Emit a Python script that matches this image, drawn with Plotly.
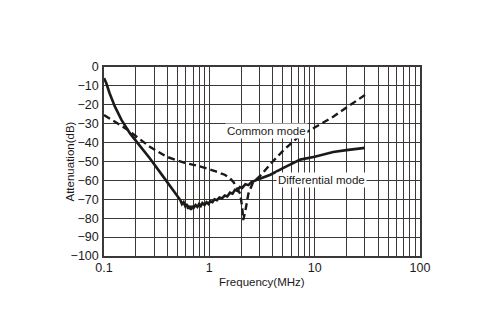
import numpy as np
import plotly.graph_objects as go

# Differential mode (solid)
diff_freq = [0.1, 0.105, 0.113, 0.127, 0.1465, 0.176, 0.2036, 0.272, 0.365, 0.489,
             0.53, 0.55, 0.57, 0.59, 0.61, 0.63, 0.65, 0.67, 0.69, 0.71, 0.74, 0.77, 0.8, 0.83, 0.86,
             0.9, 0.94, 0.98, 1.02, 1.07, 1.12, 1.18, 1.25, 1.32, 1.4, 1.48, 1.57, 1.66, 1.75, 1.84,
             1.95, 2.05, 2.2, 2.35, 2.5, 2.8, 3.2, 3.8, 5.0, 7.3, 10, 15, 20, 30]
diff_att = [-5.9, -8.5, -13.9, -21, -28, -35, -39.5, -48.3, -58, -67.7,
            -70.4, -72.5, -71.5, -73.5, -72.5, -75, -73.5, -75.5, -73.5, -74.5, -73, -74, -72.5, -73.5, -72,
            -73, -71.5, -72.5, -71, -71.5, -70, -70.5, -69, -69.5, -68, -68.5, -66.5, -67, -65, -65.5,
            -63.5, -64, -62, -62.5, -61, -59.8, -58.5, -57, -53.5, -49, -47.5, -45, -44, -42.8]

# Common mode (dashed)
common_freq = [0.1, 0.127, 0.169, 0.204, 0.272, 0.39, 0.565, 0.81, 1.0, 1.17,
               1.4, 1.57, 1.7, 1.84, 1.96, 2.05, 2.1, 2.2, 2.35, 2.6, 3.05, 4, 5.07, 7, 9.1, 10, 15, 21.7, 30]
common_att = [-25.4, -28.9, -33.3, -36.9, -42.2, -47.4, -50.5, -52.5, -54, -55.4,
              -57, -58.9, -61, -64, -67, -74, -81, -76, -67, -61, -57.5, -50, -44, -37, -33.5, -32,
              -26.3, -20, -14.8]

x_grid = [m * 10.0 ** e for e in (-1, 0, 1) for m in range(1, 10)] + [100]
x_labels = {0.1: "0.1", 1.0: "1", 10.0: "10", 100: "100"}
x_text = [x_labels.get(round(v, 6), "") for v in x_grid]
y_ticks = list(range(0, -101, -10))
y_text = [("−" + str(-v)) if v < 0 else "0" for v in y_ticks]

ink = "#1c1a19"
grid = "#3b3837"

fig = go.Figure()
fig.add_trace(go.Scatter(x=diff_freq, y=diff_att, mode="lines",
                         line=dict(color=ink, width=2.6), showlegend=False))
fig.add_trace(go.Scatter(x=common_freq, y=common_att, mode="lines",
                         line=dict(color=ink, width=2.4, dash="7px,4px"), showlegend=False))

fig.add_annotation(x=np.log10(3.47), y=-34, text="Common mode", showarrow=False,
                   bgcolor="white", font=dict(size=11.5, color=ink), borderpad=1)
fig.add_annotation(x=np.log10(11.6), y=-60, text="Differential mode", showarrow=False,
                   bgcolor="white", font=dict(size=11.5, color=ink), borderpad=1)

# axis titles placed as paper annotations
fig.add_annotation(xref="paper", yref="paper", x=(69 - 104) / 316, y=0.5,
                   text="Attenuation(dB)", textangle=-90, showarrow=False,
                   xanchor="center", yanchor="middle", font=dict(size=11.5, color=ink))
fig.add_annotation(xref="paper", yref="paper", x=0.5, y=(256 - 282) / 189,
                   text="Frequency(MHz)", showarrow=False,
                   xanchor="center", yanchor="middle", font=dict(size=11.5, color=ink))

fig.update_layout(
    width=500, height=333,
    margin=dict(l=104, r=80, t=67, b=77),
    paper_bgcolor="white", plot_bgcolor="white",
    font=dict(family="Liberation Sans, Arial, sans-serif", color=ink, size=12),
    xaxis=dict(type="log", range=[-1, 2], tickvals=x_grid, ticktext=x_text,
               showgrid=True, gridcolor=grid, gridwidth=1.3, zeroline=False,
               showline=True, mirror=True, linecolor=grid, linewidth=1.5,
               ticks="", tickfont=dict(size=12.5), ticklabelstandoff=-1),
    yaxis=dict(range=[-100, 0], tickvals=y_ticks, ticktext=y_text,
               showgrid=True, gridcolor=grid, gridwidth=1.3, zeroline=False,
               showline=True, mirror=True, linecolor=grid, linewidth=1.5,
               ticks="", tickfont=dict(size=12.5), ticklabelstandoff=1),
)

fig.write_html("out.html")
